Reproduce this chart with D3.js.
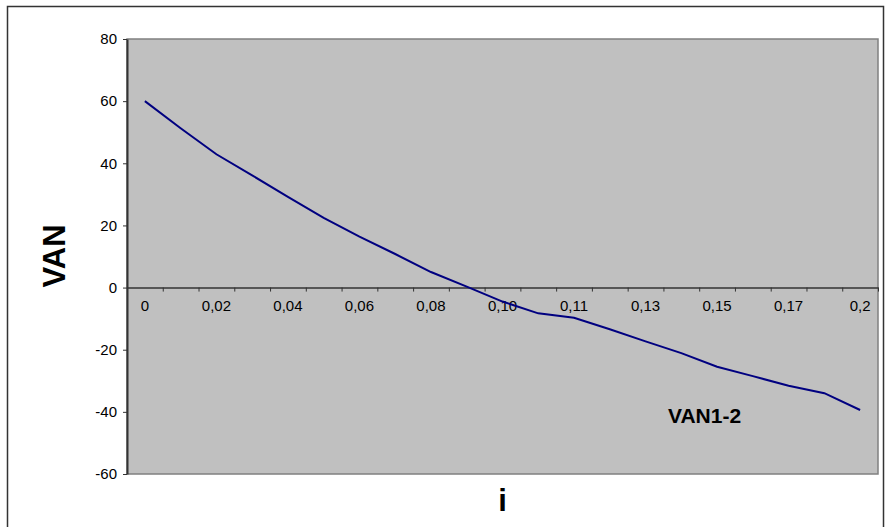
<!DOCTYPE html>
<html>
<head>
<meta charset="utf-8">
<script src="https://cdn.jsdelivr.net/npm/d3@7"></script>
<style>
  body { margin: 0; background: #fff; }
  svg { display: block; font-family: Arial, "Liberation Sans", sans-serif; }
  .axis path, .axis line { stroke: #333; }
  .axis text { fill: #000; }
</style>
</head>
<body>
<svg id="chart" width="885" height="527"></svg>
<script>
// categories of the rate i (shown every second one)
var rates = ["0", "0,01", "0,02", "0,03", "0,04", "0,05", "0,06", "0,07", "0,08", "0,09",
  "0,10", "0,10", "0,11", "0,12", "0,13", "0,14", "0,15", "0,16", "0,17", "0,18", "0,2"];
// VAN1-2 values
var van = [60, 51.3, 42.9, 36.1, 29.2, 22.4, 16.4, 10.8, 5.0, 0.3,
  -4.5, -8.3, -9.7, -13.4, -17.3, -21.1, -25.5, -28.5, -31.6, -34.0, -39.4];
var yTicks = [-60, -40, -20, 0, 20, 40, 60, 80];

var margin = { top: 39, right: 7, bottom: 53, left: 127 };
var W = 885, H = 527;
var width = W - margin.left - margin.right;
var height = H - margin.top - margin.bottom;

var svg = d3.select("#chart");

// outer frame
svg.append("rect").
  attr("x", 7.5).attr("y", 6.5).
  attr("width", 876).attr("height", 530).
  attr("fill", "none").attr("stroke", "#333").attr("stroke-width", 1.5);

var g = svg.append("g").
  attr("transform", "translate(" + margin.left + "," + margin.top + ")");

var x = d3.scaleBand().domain(d3.range(rates.length)).range([0, width]).padding(0);
var xEdge = d3.scaleLinear().domain([0, rates.length]).range([0, width]);
var y = d3.scaleLinear().domain([-60, 80]).range([height, 0]);

// plot area
g.append("rect").
  attr("width", width).attr("height", height).
  attr("fill", "#c0c0c0").attr("stroke", "#808080").attr("stroke-width", 1.5);

// y axis
var gY = g.append("g").
  attr("class", "axis").
  call(d3.axisLeft(y).tickValues(yTicks).tickSize(4).tickPadding(6).tickSizeOuter(0).
    tickFormat(function(d) { return String(d); })).
  attr("font-size", 15).attr("font-family", null);
gY.select(".domain").attr("stroke-width", 2);

// x axis on the zero line, ticks at category edges
var gX = g.append("g").
  attr("class", "axis").
  attr("transform", "translate(0," + y(0) + ")").
  call(d3.axisBottom(xEdge).tickValues(d3.range(rates.length + 1)).tickSize(4).tickFormat("").tickSizeOuter(0));
gX.select(".domain").attr("stroke-width", 1.5);

g.append("g").
  attr("transform", "translate(0," + y(0) + ")").
  selectAll("text").
  data(d3.range(0, rates.length, 2)).
  join("text").
  attr("x", function(i) { return x(i) + x.bandwidth() / 2; }).
  attr("y", 23).
  attr("text-anchor", "middle").
  attr("font-size", 15).
  text(function(i) { return rates[i]; });

// line
var line = d3.line().
  x(function(d, i) { return x(i) + x.bandwidth() / 2; }).
  y(function(d) { return y(d); });

g.append("path").
  datum(van).
  attr("fill", "none").
  attr("stroke", "#000080").
  attr("stroke-width", 2).
  attr("d", line);

// series label
g.append("text").
  attr("x", 541).attr("y", 384).
  attr("font-size", 21).attr("font-weight", "bold").
  text("VAN1-2");

// axis titles
svg.append("text").
  attr("transform", "translate(65,256) rotate(-90)").
  attr("text-anchor", "middle").
  attr("font-size", 31).attr("font-weight", "bold").
  text("VAN");

svg.append("text").
  attr("x", margin.left + width / 2).attr("y", 511).
  attr("text-anchor", "middle").
  attr("font-size", 31).attr("font-weight", "bold").
  text("i");
</script>
</body>
</html>
